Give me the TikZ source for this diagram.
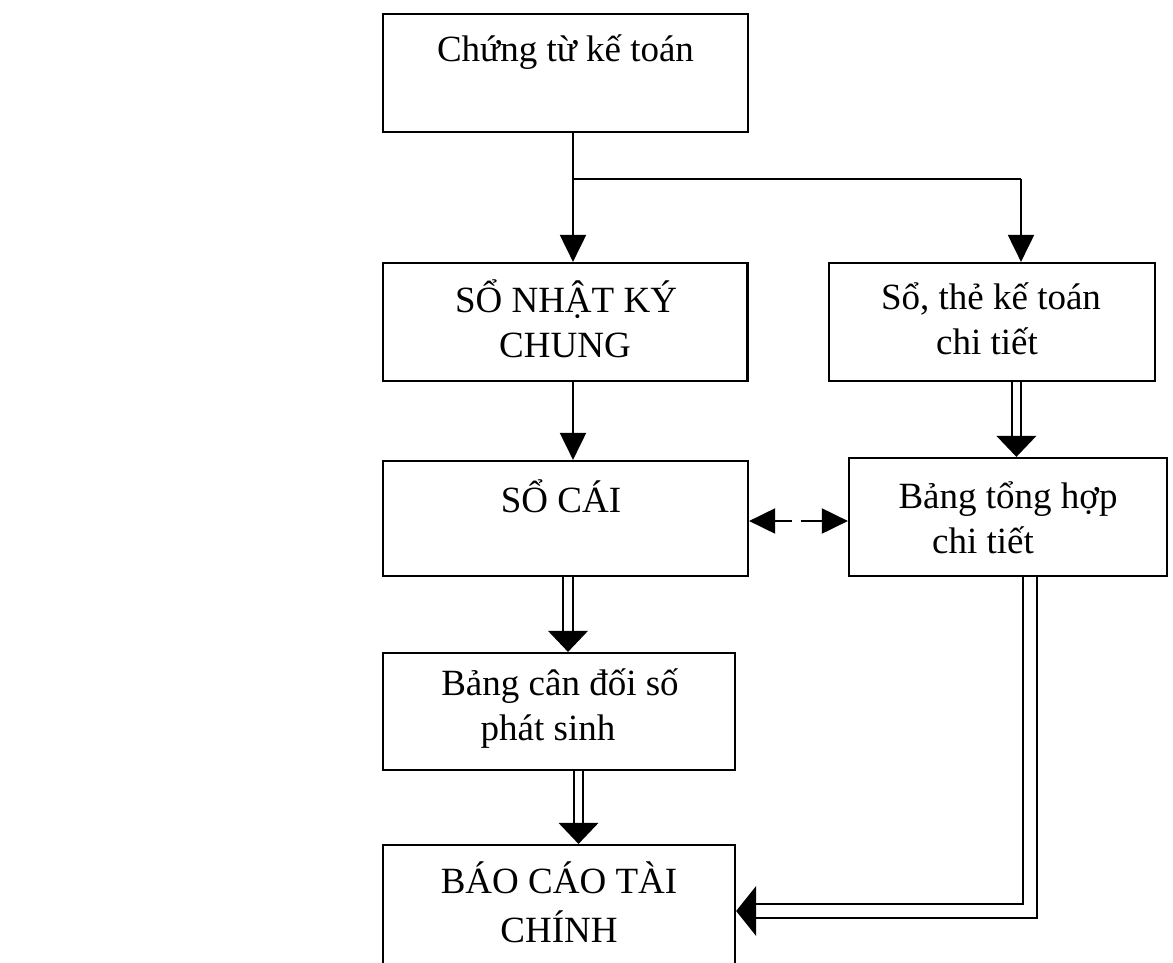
\documentclass[tikz,border=0pt]{standalone}
\usepackage{fontspec}
\setmainfont{Liberation Serif}
\usetikzlibrary{arrows.meta,calc}
\pgfdeclarelayer{links}
\pgfsetlayers{links,main}
\begin{document}
\begin{tikzpicture}[x=1pt,y=-1pt,
  box/.style={draw, line width=2.2pt, inner sep=0pt},
  txt/.style={anchor=base, inner sep=0pt, font=\fontsize{37}{44}\selectfont},
  conn/.style={line width=2pt},
  single/.style={conn, -{Triangle[width=26pt,length=27pt]}},
  twin/.style={line width=1.7pt, double, double distance=#1},
  twinhead/.style={-{Triangle[width=40pt,length=21pt,line width=0pt 0 0]}},
]
\useasboundingbox (0,0) rectangle (1173,963);
\clip (0,0) rectangle (1173,963);

% boxes
\node[box, minimum width=365pt, minimum height=117.7pt] (b1) at (565.5,72.85) {};
\node[box, minimum width=364.5pt, minimum height=118pt] (b2) at (565.25,322) {};
\node[box, minimum width=326pt, minimum height=118pt] (b3) at (992,322) {};
\node[box, minimum width=365pt, minimum height=115pt] (b4) at (565.5,518.5) {};
\node[box, minimum width=318pt, minimum height=118pt] (b5) at (1008,517) {};
\node[box, minimum width=352pt, minimum height=117pt] (b6) at (559,711.5) {};
\node[box, minimum width=352pt, minimum height=155pt] (b7) at (559,922.5) {};

% texts
\node[txt] (t1) at (565.5,62) {Chứng từ kế toán};
\node[txt] (t2a) at (566,312) {SỔ NHẬT KÝ};
\node[txt] (t2b) at (565,357) {CHUNG};
\node[txt] (t3a) at (991,309) {Sổ, thẻ kế toán};
\node[txt] (t3b) at (987,354) {chi tiết};
\node[txt] (t4) at (561,512) {SỔ CÁI};
\node[txt] (t5a) at (1008,508) {Bảng tổng hợp};
\node[txt] (t5b) at (983,553) {chi tiết};
\node[txt] (t6a) at (560,695) {Bảng cân đối số};
\node[txt] (t6b) at (548,740) {phát sinh};
\node[txt] (t7a) at (559,893) {BÁO CÁO TÀI};
\node[txt] (t7b) at (559,942) {CHÍNH};

% connector routing points
\coordinate (split) at (573,179);
\coordinate (turn) at (1021,179);
\coordinate (c24) at (573,0);
\coordinate (c35) at (1016.4,0);
\coordinate (c46) at (568,0);
\coordinate (c67) at (578.5,0);
\coordinate (c57) at (1030,911);
\coordinate (mid) at (798,521);

\begin{pgfonlayer}{links}
\draw[conn] (b1.south -| split) -- (split) -- (turn);
\draw[single] (split) -- (split |- b2.north);
\draw[single] (turn) -- (turn |- b3.north);
\draw[single] (b2.south -| c24) -- (b4.north -| c24);
\draw[twin=7.6pt, twinhead] (b3.south -| c35) -- (b5.north -| c35);
\draw[twin=8.9pt, twinhead] (b4.south -| c46) -- (b6.north -| c46);
\draw[twin=7.3pt, twinhead] (b6.south -| c67) -- (b7.north -| c67);
\draw[twin=12.5pt, -{Triangle[width=50pt,length=20pt,line width=0pt 0 0]}]
  (b5.south -| c57) -- (c57) -- (b7.east |- c57);
\draw[conn, dash pattern=on 17pt off 9pt on 22pt off 0pt,
  {Triangle[width=25pt,length=26pt]}-{Triangle[width=25pt,length=26pt]}]
  (b4.east |- mid) -- (b5.west |- mid);
\end{pgfonlayer}
\end{tikzpicture}
\end{document}
